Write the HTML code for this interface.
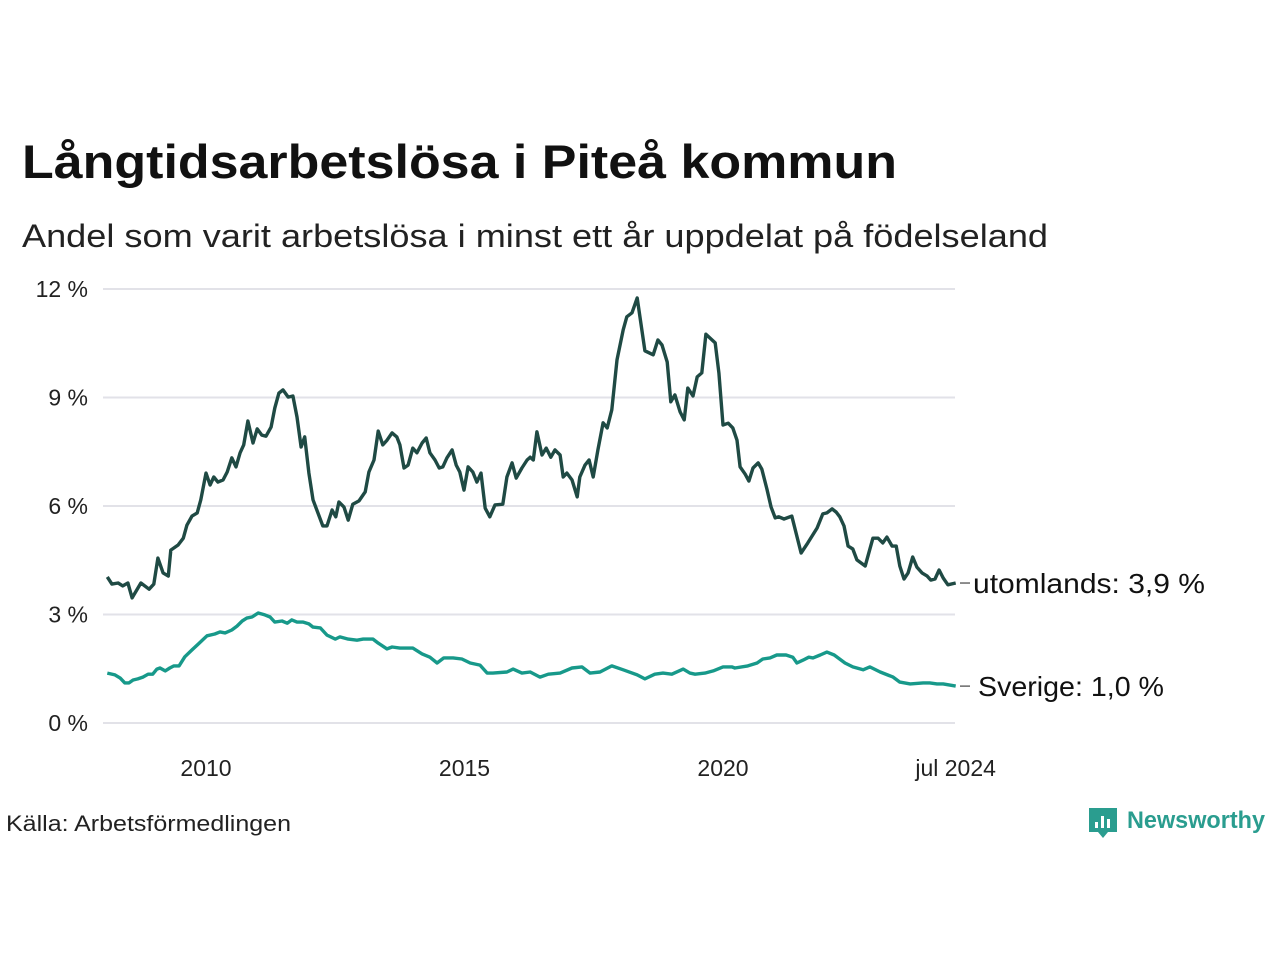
<!DOCTYPE html>
<html><head><meta charset="utf-8"><style>
body{margin:0;background:#fff;font-family:"Liberation Sans",sans-serif;}
#wrap{position:relative;width:1280px;height:960px;overflow:hidden;background:#fff}
</style></head><body>
<div id="wrap">
<svg id="chart" width="1280" height="960" font-family="Liberation Sans, sans-serif">
<text x="22" y="178" font-size="47" font-weight="bold" fill="#111" textLength="875" lengthAdjust="spacingAndGlyphs">Långtidsarbetslösa i Piteå kommun</text>
<text x="22" y="247" font-size="32" fill="#222" textLength="1026" lengthAdjust="spacingAndGlyphs">Andel som varit arbetslösa i minst ett år uppdelat på födelseland</text>
<g id="grid"></g>
<g id="yticks"></g>
<g id="xticks"></g>
<g id="lines"></g>
<g id="labels"></g>
<text x="6" y="831" font-size="22" fill="#222" textLength="285" lengthAdjust="spacingAndGlyphs">Källa: Arbetsförmedlingen</text>
<g>
<path d="M1089 808 h28 v24 h-9 l-5 6 l-5 -6 h-9 z" fill="#2a9d8f"/>
<rect x="1095" y="822" width="3" height="6" fill="#fff"/><rect x="1101" y="816" width="3" height="12" fill="#fff"/><rect x="1107" y="819" width="3" height="9" fill="#fff"/>
<text x="1127" y="828" font-size="24" font-weight="bold" fill="#2a9d8f" textLength="138" lengthAdjust="spacingAndGlyphs">Newsworthy</text>
</g>
</svg>
</div>
<script>
const yTicks=[0,3,6,9,12];
const yTickLabels=["0 %","3 %","6 %","9 %","12 %"];
const xTicks=[2010,2015,2020,2024.5];
const xTickLabels=["2010","2015","2020","jul 2024"];
const seriesNames=["utomlands","Sverige"];
const endLabels=["utomlands: 3,9 %","Sverige: 1,0 %"];
const utomDates=[2008.09,2008.18,2008.30,2008.39,2008.49,2008.57,2008.74,2008.90,2008.99,2009.07,2009.17,2009.27,2009.32,2009.46,2009.56,2009.63,2009.73,2009.83,2009.90,2010.00,2010.08,2010.15,2010.23,2010.33,2010.41,2010.50,2010.58,2010.66,2010.73,2010.81,2010.91,2010.99,2011.08,2011.16,2011.26,2011.33,2011.41,2011.49,2011.59,2011.68,2011.76,2011.84,2011.91,2011.99,2012.07,2012.26,2012.34,2012.44,2012.51,2012.57,2012.67,2012.75,2012.84,2012.96,2013.08,2013.15,2013.25,2013.33,2013.42,2013.50,2013.60,2013.69,2013.75,2013.83,2013.91,2014.00,2014.08,2014.18,2014.26,2014.33,2014.43,2014.51,2014.58,2014.66,2014.76,2014.84,2014.91,2014.99,2015.07,2015.16,2015.24,2015.32,2015.40,2015.49,2015.59,2015.74,2015.82,2015.92,2016.00,2016.11,2016.21,2016.27,2016.33,2016.40,2016.50,2016.58,2016.67,2016.75,2016.85,2016.91,2016.98,2017.08,2017.18,2017.23,2017.33,2017.41,2017.49,2017.58,2017.68,2017.76,2017.85,2017.95,2018.07,2018.14,2018.24,2018.34,2018.49,2018.65,2018.74,2018.82,2018.92,2018.99,2019.07,2019.17,2019.25,2019.32,2019.42,2019.50,2019.59,2019.67,2019.85,2019.92,2020.00,2020.10,2020.19,2020.27,2020.33,2020.43,2020.50,2020.58,2020.68,2020.75,2020.85,2020.93,2021.01,2021.08,2021.18,2021.33,2021.51,2021.64,2021.82,2021.93,2022.01,2022.11,2022.19,2022.26,2022.34,2022.42,2022.51,2022.59,2022.75,2022.90,2023.00,2023.09,2023.17,2023.27,2023.35,2023.42,2023.50,2023.58,2023.67,2023.75,2023.85,2023.95,2024.02,2024.10,2024.18,2024.26,2024.35,2024.50];
const utomValues=[4.04,3.84,3.87,3.79,3.87,3.46,3.87,3.70,3.84,4.56,4.15,4.06,4.78,4.92,5.11,5.47,5.72,5.81,6.17,6.91,6.58,6.80,6.66,6.72,6.94,7.33,7.08,7.47,7.69,8.35,7.74,8.13,7.96,7.93,8.18,8.71,9.12,9.21,9.01,9.04,8.46,7.63,7.91,6.91,6.17,5.45,5.45,5.89,5.70,6.11,5.97,5.61,6.05,6.14,6.39,6.94,7.27,8.07,7.69,7.82,8.02,7.91,7.69,7.05,7.13,7.60,7.47,7.74,7.88,7.47,7.27,7.05,7.08,7.33,7.55,7.13,6.94,6.44,7.08,6.94,6.66,6.91,5.94,5.70,6.03,6.05,6.80,7.19,6.77,7.05,7.27,7.35,7.27,8.05,7.41,7.60,7.35,7.55,7.41,6.80,6.91,6.72,6.25,6.80,7.13,7.27,6.80,7.55,8.30,8.16,8.66,10.04,10.87,11.23,11.34,11.75,10.29,10.18,10.59,10.45,9.98,8.88,9.07,8.60,8.38,9.26,9.04,9.57,9.68,10.75,10.51,9.68,8.24,8.29,8.16,7.82,7.08,6.88,6.69,7.05,7.19,7.02,6.47,5.97,5.67,5.70,5.64,5.72,4.70,4.98,5.39,5.78,5.81,5.92,5.83,5.70,5.45,4.89,4.81,4.51,4.34,5.11,5.11,4.98,5.14,4.89,4.89,4.34,3.98,4.15,4.59,4.31,4.15,4.06,3.95,3.98,4.23,4.01,3.82,3.87];
const sveDates=[2008.09,2008.24,2008.34,2008.43,2008.51,2008.59,2008.68,2008.78,2008.88,2008.97,2009.05,2009.11,2009.21,2009.30,2009.38,2009.48,2009.59,2009.73,2009.85,2010.02,2010.17,2010.27,2010.37,2010.50,2010.60,2010.70,2010.79,2010.89,2011.01,2011.14,2011.24,2011.33,2011.47,2011.57,2011.66,2011.76,2011.88,2011.99,2012.07,2012.21,2012.34,2012.50,2012.59,2012.75,2012.92,2013.04,2013.23,2013.33,2013.50,2013.60,2013.75,2014.00,2014.18,2014.33,2014.47,2014.60,2014.78,2014.95,2015.11,2015.30,2015.44,2015.55,2015.82,2015.94,2016.11,2016.27,2016.46,2016.62,2016.85,2017.08,2017.27,2017.43,2017.62,2017.85,2018.07,2018.34,2018.49,2018.68,2018.84,2019.01,2019.23,2019.36,2019.46,2019.65,2019.81,2020.00,2020.17,2020.23,2020.48,2020.66,2020.77,2020.91,2021.04,2021.22,2021.35,2021.43,2021.55,2021.66,2021.74,2021.88,2022.01,2022.15,2022.36,2022.51,2022.71,2022.84,2023.04,2023.29,2023.42,2023.62,2023.87,2024.00,2024.14,2024.26,2024.50];
const sveValues=[1.38,1.33,1.24,1.11,1.11,1.19,1.22,1.27,1.35,1.35,1.49,1.52,1.44,1.52,1.58,1.58,1.83,2.02,2.18,2.41,2.46,2.52,2.49,2.57,2.68,2.82,2.90,2.93,3.04,2.99,2.93,2.79,2.82,2.76,2.85,2.79,2.79,2.74,2.65,2.63,2.43,2.32,2.38,2.32,2.29,2.32,2.32,2.21,2.05,2.10,2.07,2.07,1.91,1.82,1.66,1.80,1.80,1.77,1.66,1.60,1.38,1.38,1.41,1.49,1.38,1.41,1.27,1.35,1.38,1.52,1.55,1.38,1.41,1.58,1.47,1.33,1.22,1.35,1.38,1.35,1.49,1.38,1.35,1.38,1.44,1.55,1.55,1.52,1.58,1.66,1.77,1.80,1.88,1.88,1.82,1.66,1.74,1.82,1.80,1.88,1.96,1.88,1.66,1.55,1.47,1.55,1.41,1.27,1.13,1.08,1.11,1.11,1.08,1.08,1.02];

const NS='http://www.w3.org/2000/svg';
const X0=103,X1=955;
const labelX=[973,978];
const labelW=[232,186];
function xScale(t){return 206+(t-2010)*51.7;}
function yScale(v){return 723-v*36.17;}
function mk(tag,attrs,parent){const e=document.createElementNS(NS,tag);for(const k in attrs)e.setAttribute(k,attrs[k]);parent.appendChild(e);return e;}
const grid=document.getElementById('grid'),yt=document.getElementById('yticks'),xt=document.getElementById('xticks'),lines=document.getElementById('lines'),labels=document.getElementById('labels');
yTicks.forEach((v,i)=>{
  const l=mk('line',{x1:X0,x2:X1,y1:yScale(v),y2:yScale(v),stroke:'#e2e2e8','stroke-width':2},grid);
  
  
  const t=mk('text',{x:88,y:yScale(v)+8,'font-size':23,'text-anchor':'end',fill:'#222'},yt);
  t.textContent=yTickLabels[i];
  
  
});
xTicks.forEach((v,i)=>{
  const t=mk('text',{x:xScale(v),y:776,'font-size':23,'text-anchor':'middle',fill:'#222'},xt);
  t.textContent=xTickLabels[i];
  
  
});
const sets=[[utomDates,utomValues,'#1f4a44'],[sveDates,sveValues,'#17998a']];
sets.forEach((s,k)=>{
  const d=s[0].map((t,i)=>(i?'L':'M')+xScale(t).toFixed(1)+' '+yScale(s[1][i]).toFixed(1)).join(' ');
  const p=mk('path',{d:d,fill:'none',stroke:s[2],'stroke-width':3.4,'stroke-linejoin':'round'},lines);
  
  
  const last=s[1][s[1].length-1];
  const ly=yScale(last);
  const tk=mk('line',{x1:960,x2:970,y1:ly,y2:ly,stroke:'#444','stroke-width':1.2},labels);
  
  
  const t=mk('text',{x:labelX[k],y:ly+10,'font-size':28,fill:'#111',textLength:labelW[k],lengthAdjust:'spacingAndGlyphs'},labels);
  t.textContent=endLabels[k];
  
  
});
</script>
</body></html>
